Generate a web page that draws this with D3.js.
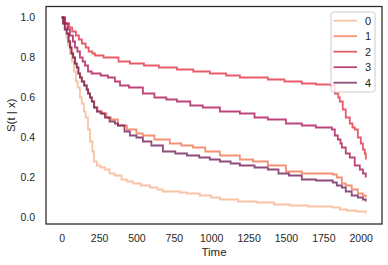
<!DOCTYPE html>
<html>
<head>
<meta charset="utf-8">
<script src="https://cdn.jsdelivr.net/npm/d3@7"></script>
<style>
  body { margin: 0; background: #fff; }
  svg text { font-family: "Liberation Sans", Arial, sans-serif; fill: #262626; }
</style>
</head>
<body>
<div class="surv-chart"></div>
<script>
// survival curves S(t | x), one per group, as [time, value] step points
const groups = ['0', '1', '2', '3', '4'];
const colors = ['#f6b48f', '#f37651', '#e13342', '#ad1759', '#701f57'];

const curve0 = [[0,1.0],[12,0.97],[22,0.94],[32,0.90],[42,0.86],[55,0.82],[69,0.78],[82,0.73],[95,0.68],[107,0.65],[122,0.60],[134,0.57],[148,0.53],[160,0.50],[176,0.44],[190,0.38],[205,0.33],[216,0.28],[235,0.26],[260,0.25],[290,0.24],[320,0.22],[356,0.21],[400,0.19],[436,0.18],[476,0.17],[530,0.16],[590,0.15],[640,0.14],[677,0.13],[790,0.125],[838,0.12],[924,0.11],[1000,0.10],[1058,0.09],[1180,0.08],[1305,0.075],[1420,0.065],[1526,0.06],[1650,0.055],[1813,0.05],[1860,0.04],[1907,0.035],[1970,0.03],[2034,0.02]];

const curve1 = [[0,1.0],[12,0.97],[22,0.95],[35,0.92],[48,0.88],[58,0.85],[68,0.82],[78,0.80],[90,0.77],[102,0.75],[113,0.72],[124,0.70],[136,0.68],[152,0.66],[168,0.64],[178,0.62],[190,0.60],[203,0.58],[218,0.55],[240,0.53],[270,0.52],[300,0.50],[330,0.49],[376,0.46],[436,0.44],[500,0.42],[543,0.41],[620,0.39],[723,0.37],[800,0.36],[878,0.35],[960,0.33],[1058,0.31],[1192,0.29],[1280,0.28],[1379,0.26],[1500,0.23],[1606,0.22],[1813,0.215],[1840,0.20],[1874,0.17],[1900,0.16],[1940,0.14],[1981,0.12],[2015,0.11],[2034,0.10]];

const curve2 = [[0,1.0],[20,0.97],[50,0.95],[70,0.93],[95,0.91],[115,0.89],[135,0.87],[160,0.85],[180,0.83],[205,0.82],[223,0.81],[280,0.80],[380,0.78],[456,0.77],[550,0.76],[650,0.75],[771,0.74],[880,0.73],[991,0.72],[1100,0.71],[1192,0.70],[1379,0.69],[1490,0.68],[1606,0.67],[1700,0.665],[1800,0.66],[1827,0.62],[1850,0.60],[1860,0.58],[1880,0.54],[1900,0.50],[1927,0.47],[1945,0.45],[1960,0.44],[1981,0.40],[2001,0.37],[2015,0.34],[2027,0.32],[2034,0.29]];

const curve3 = [[0,1.0],[22,0.97],[40,0.94],[55,0.91],[75,0.88],[89,0.85],[105,0.83],[122,0.80],[140,0.78],[156,0.76],[176,0.73],[200,0.72],[260,0.71],[309,0.70],[356,0.68],[390,0.66],[450,0.65],[543,0.62],[620,0.60],[700,0.59],[771,0.58],[860,0.56],[944,0.55],[1058,0.53],[1192,0.52],[1290,0.50],[1379,0.49],[1500,0.47],[1606,0.46],[1700,0.45],[1807,0.44],[1827,0.41],[1847,0.39],[1865,0.37],[1874,0.35],[1900,0.32],[1927,0.30],[1960,0.26],[1994,0.24],[2015,0.22],[2034,0.20]];

const curve4 = [[0,1.0],[9,0.97],[20,0.94],[33,0.92],[45,0.88],[55,0.85],[65,0.82],[76,0.80],[88,0.77],[100,0.75],[111,0.72],[122,0.70],[134,0.68],[150,0.66],[167,0.64],[176,0.62],[189,0.60],[201,0.58],[216,0.55],[235,0.53],[260,0.52],[289,0.50],[320,0.48],[356,0.47],[376,0.46],[420,0.43],[456,0.41],[500,0.40],[543,0.38],[600,0.36],[677,0.33],[760,0.32],[838,0.31],[920,0.30],[991,0.29],[1058,0.28],[1130,0.27],[1192,0.26],[1290,0.25],[1379,0.24],[1450,0.22],[1520,0.21],[1606,0.19],[1700,0.185],[1813,0.175],[1840,0.16],[1874,0.15],[1900,0.13],[1940,0.11],[1981,0.10],[2015,0.09],[2034,0.08]];

const curves = [curve0, curve1, curve2, curve3, curve4];
const xTicks = [0, 250, 500, 750, 1000, 1250, 1500, 1750, 2000];
const yTicks = [0.0, 0.2, 0.4, 0.6, 0.8, 1.0];

const width = 388;
const height = 265;
const mLeft = 46, mRight = 382, mTop = 6.5, mBottom = 224;

const svg = d3.select('.surv-chart')
    .append('svg')
    .attr('width', width)
    .attr('height', height);

const x = d3.scaleLinear().domain([-105, 2142.5]).range([mLeft, mRight]);
const y = d3.scaleLinear().domain([-0.0325, 1.055]).range([mBottom, mTop]);

// tick labels (no tick marks in this style)
svg.append('g')
    .attr('transform', `translate(0,${mBottom})`)
    .call(d3.axisBottom(x).tickValues(xTicks).tickSize(0).tickPadding(11).tickFormat(d3.format('d')))
    .call(g => g.select('.domain').remove())
    .selectAll('text').attr('font-size', 10.5).style('fill', '#262626');

svg.append('g')
    .attr('transform', `translate(${mLeft},0)`)
    .call(d3.axisLeft(y).tickValues(yTicks).tickSize(0).tickPadding(11).tickFormat(d3.format('.1f')))
    .call(g => g.select('.domain').remove())
    .selectAll('text').attr('font-size', 10.5).style('fill', '#262626');

const line = d3.line()
    .x(d => x(d[0]))
    .y(d => y(d[1]))
    .curve(d3.curveStepAfter);

svg.selectAll('path.surv')
    .data(curves)
    .enter()
    .append('path')
    .attr('class', 'surv')
    .attr('d', line)
    .attr('fill', 'none')
    .attr('stroke', (d, i) => colors[i])
    .attr('stroke-opacity', 0.8)
    .attr('stroke-width', 1.8);

// frame
svg.append('rect')
    .attr('x', mLeft).attr('y', mTop)
    .attr('width', mRight - mLeft).attr('height', mBottom - mTop)
    .attr('fill', 'none')
    .attr('stroke', '#262626')
    .attr('stroke-width', 1.25);

// axis labels
svg.append('text')
    .text('Time')
    .attr('x', (mLeft + mRight) / 2)
    .attr('y', 256)
    .attr('text-anchor', 'middle')
    .attr('font-size', 11.5);

svg.append('text')
    .text('S(t | x)')
    .attr('transform', `translate(15,${(mTop + mBottom) / 2}) rotate(-90)`)
    .attr('text-anchor', 'middle')
    .attr('font-size', 11.5);

// legend
const legend = svg.append('g').attr('transform', 'translate(331,12)');
legend.append('rect')
    .attr('width', 44).attr('height', 80)
    .attr('rx', 2.5)
    .attr('fill', '#fff').attr('fill-opacity', 0.8)
    .attr('stroke', '#cccccc');

const items = legend.selectAll('g.item')
    .data(groups)
    .enter()
    .append('g')
    .attr('class', 'item')
    .attr('transform', (d, i) => `translate(0,${8.7 + i * 15.5})`);

items.append('line')
    .attr('x1', 2.5).attr('x2', 26)
    .attr('stroke', (d, i) => colors[i])
    .attr('stroke-opacity', 0.8)
    .attr('stroke-width', 1.8);

items.append('text')
    .text(d => d)
    .attr('x', 34)
    .attr('dy', '0.35em')
    .attr('font-size', 11);
</script>
</body>
</html>
